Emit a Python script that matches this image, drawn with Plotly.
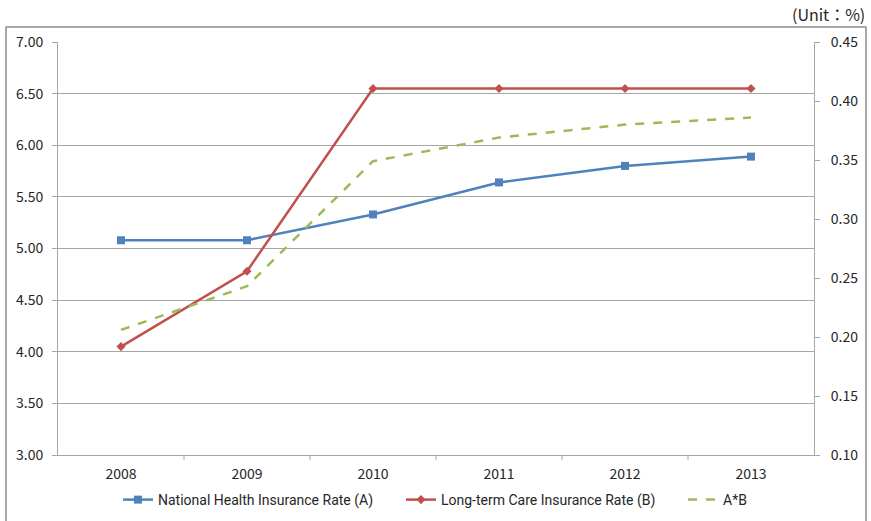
import plotly.graph_objects as go

years = ["2008", "2009", "2010", "2011", "2012", "2013"]
nhi_rate = [5.08, 5.08, 5.33, 5.64, 5.80, 5.89]        # A (%)
ltc_rate = [4.05, 4.78, 6.55, 6.55, 6.55, 6.55]        # B (% of A)
combined = [0.206, 0.243, 0.349, 0.369, 0.380, 0.386]  # A*B (%)

left_ticks = [3.0, 3.5, 4.0, 4.5, 5.0, 5.5, 6.0, 6.5, 7.0]
right_ticks = [0.10, 0.15, 0.20, 0.25, 0.30, 0.35, 0.40, 0.45]

BLUE = "#4F81BD"
RED = "#C0504D"
GREEN = "#9BBB59"
GRID = "#A6A6A6"
TXT = "#262626"
FONT = "Noto Sans CJK KR"
LEG_FONT = "Liberation Sans Narrow, Roboto, sans-serif"

fig = go.Figure()
fig.add_trace(go.Scatter(
    x=years, y=nhi_rate, name="National Health Insurance Rate (A)",
    mode="lines+markers", line=dict(color=BLUE, width=2.5),
    marker=dict(symbol="square", size=8, color=BLUE), legend="legend",
))
fig.add_trace(go.Scatter(
    x=years, y=ltc_rate, name="Long-term Care Insurance Rate (B)",
    mode="lines+markers", line=dict(color=RED, width=2.5),
    marker=dict(symbol="diamond", size=7, color=RED), legend="legend2",
))
fig.add_trace(go.Scatter(
    x=years, y=combined, name="A*B", yaxis="y2",
    mode="lines", line=dict(color=GREEN, width=2.5, dash="dash"),
    legend="legend3",
))

W, H = 871, 521
L, R, T, B = 58, 57, 42, 66
pw, ph = W - L - R, H - T - B

def px_x(x):
    return (x - L) / pw

def px_y(y):
    return (H - B - y) / ph

def legend_at(xpix):
    return dict(
        orientation="h", x=px_x(xpix), xanchor="left",
        y=px_y(500), yanchor="middle",
        font=dict(family=LEG_FONT, size=14, color=TXT),
        bgcolor="rgba(0,0,0,0)",
    )

fig.update_layout(
    width=W, height=H,
    margin=dict(l=L, r=R, t=T, b=B, autoexpand=False),
    paper_bgcolor="white", plot_bgcolor="white",
    font=dict(family=FONT, size=14, color=TXT),
    xaxis=dict(
        type="category", range=[-0.5, 5.5],
        showline=True, linecolor=GRID, linewidth=1,
        ticks="outside", ticklen=6, tickcolor="rgba(0,0,0,0)",
        showgrid=False,
        tickfont=dict(family=FONT, size=14, color=TXT),
    ),
    yaxis=dict(
        range=[3.0, 7.0], tickvals=left_ticks,
        tickformat=".2f", showgrid=True, gridcolor=GRID, gridwidth=1,
        showline=True, linecolor=GRID, linewidth=1,
        ticks="outside", ticklen=5, tickcolor=GRID,
        ticklabelstandoff=6, zeroline=False,
        tickfont=dict(family=FONT, size=14, color=TXT),
    ),
    yaxis2=dict(
        range=[0.10, 0.45], tickvals=right_ticks, tickformat=".2f",
        overlaying="y", side="right", showgrid=False,
        showline=True, linecolor=GRID, linewidth=1,
        ticks="outside", ticklen=5, tickcolor=GRID,
        ticklabelstandoff=8, zeroline=False,
        tickfont=dict(family=FONT, size=14, color=TXT),
    ),
    legend=legend_at(118),
    legend2=legend_at(401),
    legend3=legend_at(683),
    showlegend=True,
)

# category separators along the bottom axis
for i in range(1, 6):
    fig.add_shape(type="line", xref="x", yref="paper",
                  x0=i - 0.5, x1=i - 0.5, y0=0, y1=-5 / ph,
                  line=dict(color=GRID, width=1))

# outer chart frame
fig.add_shape(type="rect", xref="paper", yref="paper",
              x0=px_x(6), x1=px_x(866), y0=px_y(523), y1=px_y(27),
              line=dict(color="#8C8C8C", width=1.5), fillcolor="rgba(0,0,0,0)",
              layer="below")

fig.add_annotation(
    text="(Unit：%)", xref="paper", yref="paper",
    x=px_x(867), y=px_y(14), xanchor="right", yanchor="middle",
    showarrow=False, font=dict(family=FONT, size=16, color=TXT),
)

fig.write_html("out.html")
